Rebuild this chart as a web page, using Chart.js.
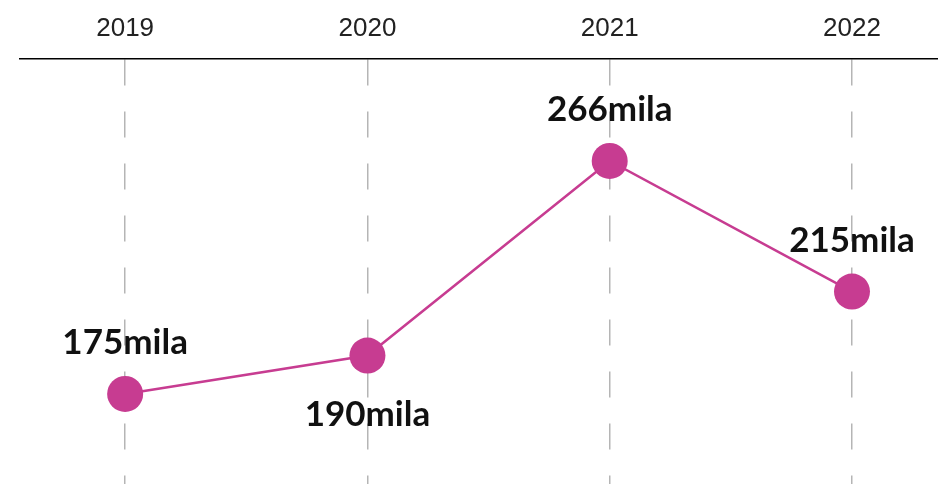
<!DOCTYPE html>
<html>
<head>
<meta charset="utf-8">
<script src="https://cdn.jsdelivr.net/npm/chart.js@4/dist/chart.umd.min.js"></script>
<style>
  html, body { margin: 0; padding: 0; background: #fff; }
  #wrap { width: 938px; height: 484px; position: relative; }
</style>
</head>
<body>
<div id="wrap"><canvas id="chart"></canvas></div>
<script>
// values in thousands
const years = ["2019", "2020", "2021", "2022"];
const visitors = [175, 190, 266, 215];
const labelSide = ["above", "below", "above", "above"];

const PINK = "#c73c91";

const pointLabels = {
  id: "pointLabels",
  afterDatasetsDraw(chart) {
    const ctx = chart.ctx;
    const meta = chart.getDatasetMeta(0);
    ctx.save();
    ctx.font = "700 35px Lato";
    ctx.fillStyle = "#111";
    ctx.textAlign = "center";
    meta.data.forEach((pt, i) => {
      const txt = `${visitors[i]}mila`;
      if (labelSide[i] === "below") {
        ctx.textBaseline = "top";
        ctx.fillText(txt, pt.x, pt.y + 42);
      } else {
        ctx.textBaseline = "alphabetic";
        ctx.fillText(txt, pt.x, pt.y - 40);
      }
    });
    ctx.restore();
  }
};

new Chart(document.getElementById("chart"), {
  type: "line",
  data: {
    datasets: [{
      data: visitors.map((v, i) => ({ x: i, y: v })),
      borderColor: PINK,
      borderWidth: 2.5,
      backgroundColor: PINK,
      pointBackgroundColor: PINK,
      pointBorderWidth: 0,
      pointRadius: 18,
      tension: 0
    }]
  },
  options: {
    responsive: true,
    maintainAspectRatio: false,
    animation: false,
    layout: { autoPadding: false, padding: { left: 20, right: 0, top: 4, bottom: 0 } },
    plugins: { legend: { display: false }, tooltip: { enabled: false } },
    scales: {
      x: {
        type: "linear",
        position: "top",
        min: -0.434,
        max: 3.355,
        afterBuildTicks: (axis) => { axis.ticks = years.map((y, i) => ({ value: i })); },
        ticks: {
          color: "#222",
          font: { family: "Liberation Sans", size: 26 },
          padding: 15,
          callback: (v) => years[v] ?? ""
        },
        grid: {
          color: "#b5b5b5",
          lineWidth: 1.5,
          drawTicks: false
        },
        border: { display: true, color: "#000", width: 1.5, dash: [26, 26] },
        afterFit: (axis) => { axis.height = 55; }
      },
      y: {
        display: false,
        min: 139.85,
        max: 305.8
      }
    }
  },
  plugins: [pointLabels]
});
</script>
</body>
</html>
